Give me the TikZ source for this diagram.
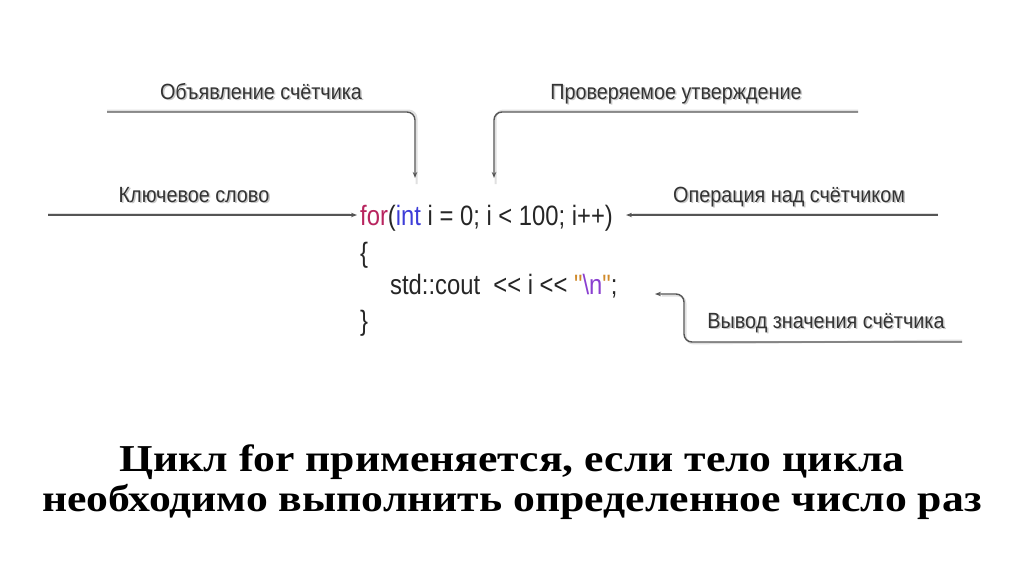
\documentclass[tikz,border=0pt]{standalone}
\usepackage{fontspec}
\setmainfont{Liberation Serif}
\newfontfamily\labfont{Liberation Sans}[FakeStretch=0.9]
\newfontfamily\codefont{Liberation Sans}[FakeStretch=0.85]
\newfontfamily\titlefont{Liberation Serif}[FakeStretch=1.15]
\usetikzlibrary{arrows.meta}
\definecolor{kwfor}{HTML}{B8255F}
\definecolor{kwint}{HTML}{3D3DD8}
\definecolor{strq}{HTML}{D08A2A}
\definecolor{strn}{HTML}{8A3FD0}
\definecolor{linegray}{HTML}{555555}
\tikzset{
  lab/.style={font=\labfont\fontsize{22}{26}\selectfont, text=black!80, inner sep=0pt, anchor=base},
  labshadow/.style={lab, text=black!22},
  code/.style={font=\codefont\fontsize{28}{32}\selectfont, text=black!85, inner sep=0pt, anchor=base west},
  conn/.style={draw=linegray, line width=1.4pt, rounded corners=8pt, -{Stealth[length=6pt,width=4.5pt]}},
  connshadow/.style={draw=black!12, line width=2pt, rounded corners=8pt},
  title/.style={font=\titlefont\bfseries\fontsize{38}{44}\selectfont, inner sep=0pt, anchor=base}
}
\begin{document}
\begin{tikzpicture}[x=1pt,y=-1pt]
\useasboundingbox (0,0) rectangle (1024,574);
\fill[white] (0,0) rectangle (1024,574);
% label shadows
\node[labshadow] (decls) at (262.5,100.5) {Объявление счётчика};
\node[labshadow] (conds) at (677.5,100.5) {Проверяемое утверждение};
\node[labshadow] (kws) at (195.5,203.5) {Ключевое слово};
\node[labshadow] (ops) at (790.5,203.5) {Операция над счётчиком};
\node[labshadow] (outs) at (827.5,329.5) {Вывод значения счётчика};
% labels
\node[lab] (decl) at (261,99) {Объявление счётчика};
\node[lab] (cond) at (676,99) {Проверяемое утверждение};
\node[lab] (kw) at (194,202) {Ключевое слово};
\node[lab] (op) at (789,202) {Операция над счётчиком};
\node[lab] (out) at (826,328) {Вывод значения счётчика};
% code
\node[code] (forline) at (360,225) {\textcolor{kwfor}{for}(\textcolor{kwint}{int} i = 0; i < 100; i++)};
\node[code] (ob) at (360,262) {\{};
\node[code] (coutline) at (390,294) {std::cout\ \ << i << \textcolor{strq}{"}\textcolor{strn}{\textbackslash n}\textcolor{strq}{"};};
\node[code] (cb) at (360,330) {\}};
% connector coordinates
\coordinate (declstart) at (107,112);
\coordinate (declend) at (415,178);
\coordinate (condstart) at (858,112);
\coordinate (condend) at (494,178);
\coordinate (kwstart) at (48,215);
\coordinate (opstart) at (938,215);
\coordinate (outstart) at (962,342);
\coordinate (outend) at (655,294);
% connector shadows
\draw[connshadow] ([yshift=1.5pt]declstart) -- ([yshift=1.5pt,xshift=1.5pt]declend |- declstart) -- ([xshift=1.5pt,yshift=-6pt]declend);
\draw[connshadow] ([yshift=1.5pt]condstart) -- ([yshift=1.5pt,xshift=1.5pt]condend |- condstart) -- ([xshift=1.5pt,yshift=-6pt]condend);
\draw[connshadow] ([yshift=1.5pt]kwstart) -- ([yshift=1.5pt,xshift=-10pt]forline.west |- kwstart);
\draw[connshadow] ([yshift=1.5pt]opstart) -- ([yshift=1.5pt,xshift=20pt]forline.east |- opstart);
\draw[connshadow] ([yshift=1.5pt]outstart) -- (685.5,343.5) -- (685.5,295.5) -- (662,295.5);
% connectors
\draw[conn] (declstart) -- (declend |- declstart) -- (declend);
\draw[conn] (condstart) -- (condend |- condstart) -- (condend);
\draw[conn] (kwstart) -- ([xshift=-3pt]forline.west |- kwstart);
\draw[conn] (opstart) -- ([xshift=13pt]forline.east |- opstart);
\draw[conn] (outstart) -- (684,342) -- (684,294) -- (outend);
% title
\node[title] (t1) at (512,471) {Цикл for применяется, если тело цикла};
\node[title] (t2) at (512,511) {необходимо выполнить определенное число раз};
\end{tikzpicture}
\end{document}
